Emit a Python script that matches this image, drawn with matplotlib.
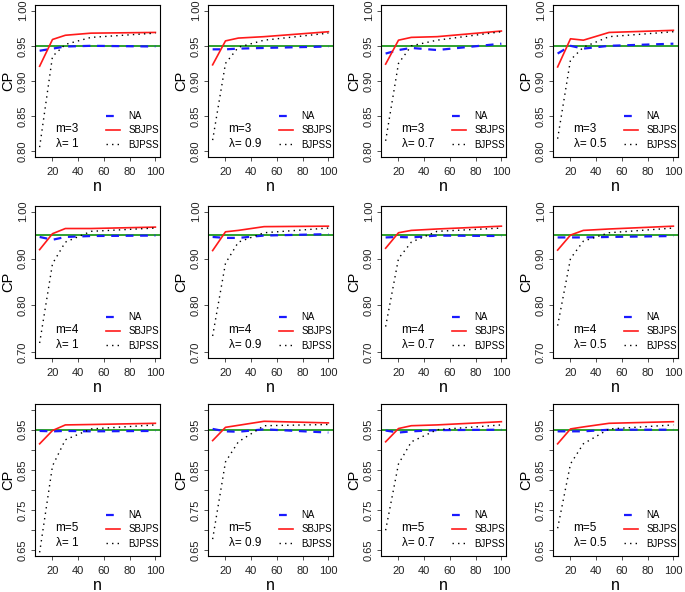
import matplotlib
matplotlib.use("Agg")
import matplotlib.pyplot as plt
import numpy as np

plt.rcParams['font.family'] = ['Liberation Sans', 'DejaVu Sans']

n = [10, 20, 30, 50, 100]
m_values = [3, 4, 5]
lambdas = ["1", "0.9", "0.7", "0.5"]

# CP values per panel: rows m=3,4,5 ; columns lambda = 1, 0.9, 0.7, 0.5
na_cp = [
    [[0.943, 0.946, 0.949, 0.950, 0.949], [0.945, 0.945, 0.946, 0.947, 0.949],
     [0.939, 0.944, 0.947, 0.944, 0.953], [0.939, 0.950, 0.946, 0.950, 0.953]],
    [[0.946, 0.940, 0.946, 0.948, 0.949], [0.946, 0.944, 0.944, 0.949, 0.952],
     [0.945, 0.946, 0.945, 0.949, 0.948], [0.945, 0.945, 0.945, 0.946, 0.948]],
    [[0.947, 0.946, 0.947, 0.946, 0.947], [0.952, 0.946, 0.945, 0.951, 0.943],
     [0.948, 0.943, 0.946, 0.949, 0.950], [0.946, 0.946, 0.946, 0.950, 0.950]],
]
sbjps_cp = [
    [[0.921, 0.959, 0.965, 0.968, 0.969], [0.923, 0.957, 0.961, 0.963, 0.970],
     [0.924, 0.958, 0.962, 0.963, 0.971], [0.920, 0.960, 0.958, 0.969, 0.972]],
    [[0.919, 0.953, 0.964, 0.964, 0.967], [0.917, 0.957, 0.960, 0.968, 0.969],
     [0.922, 0.955, 0.960, 0.963, 0.969], [0.918, 0.950, 0.960, 0.963, 0.969]],
    [[0.915, 0.948, 0.962, 0.963, 0.966], [0.923, 0.956, 0.961, 0.971, 0.967],
     [0.920, 0.953, 0.960, 0.962, 0.970], [0.915, 0.952, 0.957, 0.966, 0.970]],
]
bjpss_cp = [
    [[0.806, 0.935, 0.952, 0.962, 0.968], [0.816, 0.925, 0.948, 0.958, 0.968],
     [0.815, 0.925, 0.950, 0.958, 0.970], [0.818, 0.930, 0.948, 0.963, 0.970]],
    [[0.720, 0.889, 0.935, 0.958, 0.965], [0.735, 0.890, 0.935, 0.955, 0.965],
     [0.755, 0.900, 0.935, 0.958, 0.965], [0.757, 0.900, 0.937, 0.955, 0.965]],
    [[0.645, 0.860, 0.925, 0.952, 0.962], [0.678, 0.870, 0.920, 0.960, 0.963],
     [0.700, 0.865, 0.920, 0.950, 0.962], [0.705, 0.865, 0.915, 0.952, 0.962]],
]

# y ranges per row (R style, extended 4%)
y_ranges = [(0.80, 1.00), (0.70, 1.00), (0.65, 1.00)]
y_ticks = [[0.80, 0.85, 0.90, 0.95, 1.00],
           [0.70, 0.80, 0.90, 1.00],
           [0.65, 0.70, 0.75, 0.80, 0.85, 0.90, 0.95, 1.00]]
y_labels = [["0.80", "0.85", "0.90", "0.95", "1.00"],
            ["0.70", "0.80", "0.90", "1.00"],
            ["0.65", "", "0.75", "", "0.85", "", "0.95", ""]]
x_ticks = [20, 40, 60, 80, 100]

W, H = 685, 592
fig = plt.figure(figsize=(W / 100, H / 100), dpi=100)

col_left = [35, 208, 381, 553]
row_top = [5, 206, 404]
aw, ah = 125, 152

for r in range(3):
    for c in range(4):
        ax = fig.add_axes([col_left[c] / W, 1 - (row_top[r] + ah) / H, aw / W, ah / H])
        ax.axhline(0.95, color='#1f9a1f', lw=1.3, zorder=1)
        ax.plot(n, na_cp[r][c], color='#1a1aff', lw=1.6, ls=(0, (3.5, 3)), label='NA', zorder=3)
        ax.plot(n, sbjps_cp[r][c], color='#ff1a1a', lw=1.2, ls='-', label='SBJPS', zorder=3)
        ax.plot(n, bjpss_cp[r][c], color='black', lw=1.0, ls=(0, (1, 3)), label='BJPSS', zorder=3)
        y0, y1 = y_ranges[r]
        d = (y1 - y0) * 0.04
        ax.set_ylim(y0 - d, y1 + d)
        ax.set_xlim(10 - 3.6, 100 + 3.6)
        ax.set_xticks(x_ticks)
        ax.set_xticklabels([str(v) for v in x_ticks])
        ax.set_yticks(y_ticks[r])
        ax.set_yticklabels(y_labels[r], rotation=90, va='center')
        ax.tick_params(labelsize=8, length=3, width=0.6, color='#333333', labelcolor='#222222')
        ax.tick_params(axis='x', pad=4)
        ax.tick_params(axis='y', pad=2)
        for s in ax.spines.values():
            s.set_linewidth(0.8)
        ax.set_xlabel('n', fontsize=11.5, labelpad=2)
        ax.set_ylabel('CP', fontsize=10.5, labelpad=2)
        ax.text(0.165, 0.183, f"m={m_values[r]}", transform=ax.transAxes,
                fontsize=8.5, va='center', ha='left')
        ax.text(0.165, 0.085, f"λ= {lambdas[c]}", transform=ax.transAxes,
                fontsize=8.5, va='center', ha='left')
        ax.legend(loc='lower right', bbox_to_anchor=(1.06, -0.01), frameon=False,
                  fontsize=7, handlelength=1.5, handletextpad=0.8, labelspacing=0.45,
                  borderpad=0.4)

fig.savefig('out.png', dpi=100)
